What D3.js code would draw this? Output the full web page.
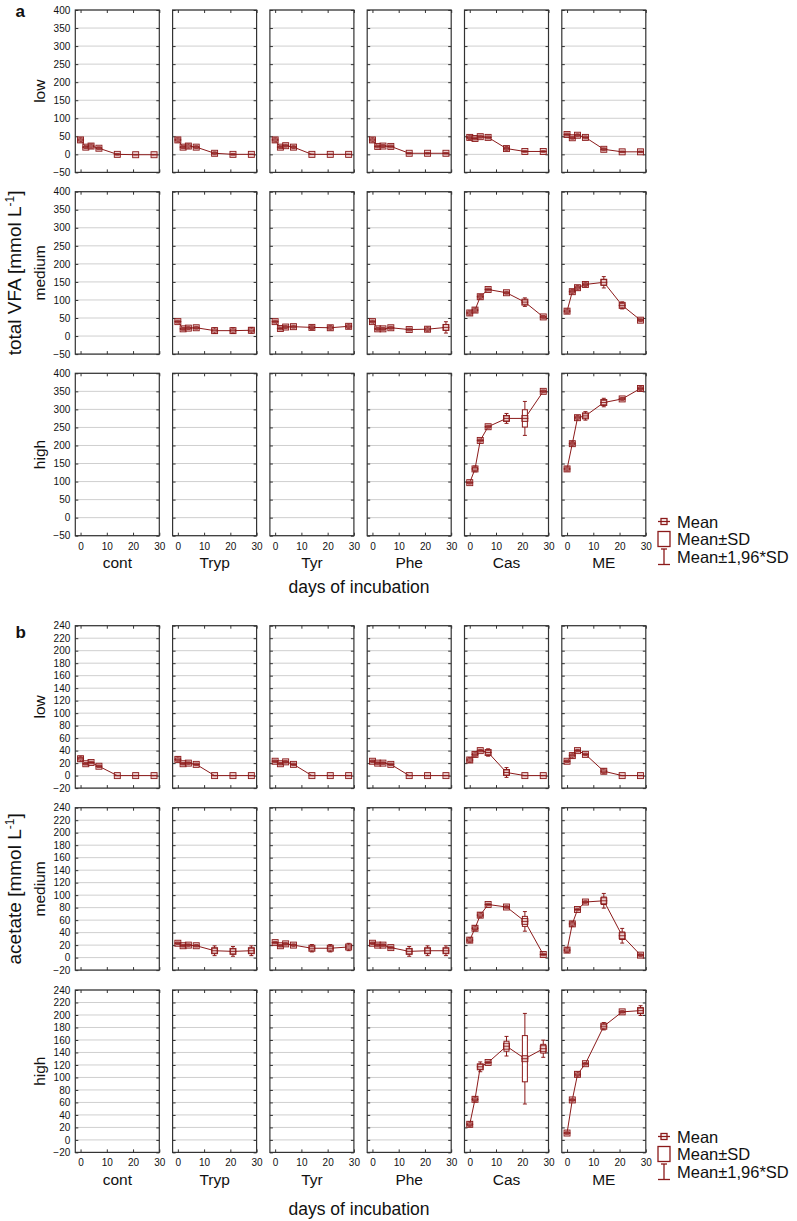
<!DOCTYPE html>
<html>
<head>
<meta charset="utf-8">
<script src="https://cdn.jsdelivr.net/npm/d3@7"></script>
<style>
body { margin: 0; background: #fff; }
svg text { font-family: "Liberation Sans", Arial, sans-serif; fill: #111; }
.grid line { stroke: #cfcfcf; stroke-width: 1; }
.tick line { stroke: #333; }
</style>
</head>
<body>
<svg id="chart" width="797" height="1221"></svg>
<script>
// ---- data ----
const days = [0, 2, 4, 7, 14, 21, 28];
const groups = ["cont", "Tryp", "Tyr", "Phe", "Cas", "ME"];
const levels = ["low", "medium", "high"];
const xTicks = [0, 10, 20, 30];
const vfaTicks = [-50, 0, 50, 100, 150, 200, 250, 300, 350, 400];
const acetateTicks = [-20, 0, 20, 40, 60, 80, 100, 120, 140, 160, 180, 200, 220, 240];

// total VFA, one row per group (cont, Tryp, Tyr, Phe, Cas, ME); null = no data
const vfaLow = [
  [40, 20, 23, 17, 0, -1, -1],
  [40, 20, 23, 20, 3, 0, 0],
  [40, 20, 24, 20, 0, 0, 0],
  [40, 22, 23, 22, 3, 3, 3],
  [47, 44, 49, 47, 16, 8, 8],
  [55, 46, 53, 47, 14, 7, 7]
];
const vfaLowSd = [
  [3, 2, 3, 2, 1, 0, 0],
  [3, 2, 3, 2, 2, 1, 0],
  [3, 2, 2, 2, 0, 0, 0],
  [3, 2, 2, 2, 1, 1, 1],
  [3, 2, 2, 2, 3, 1, 1],
  [2, 2, 2, 2, 2, 1, 1]
];
const vfaMedium = [
  null,
  [40, 20, 22, 23, 15, 15, 16],
  [40, 21, 25, 26, 24, 23, 27],
  [40, 20, 20, 23, 18, 19, 24],
  [64, 72, 109, 129, 120, 94, 53],
  [69, 123, 134, 143, 149, 85, 44]
];
const vfaMediumSd = [
  null,
  [2, 2, 2, 2, 4, 4, 4],
  [2, 2, 2, 2, 3, 3, 3],
  [2, 2, 2, 2, 2, 3, 8],
  [3, 3, 3, 2, 2, 6, 2],
  [3, 3, 3, 3, 8, 5, 2]
];
const vfaHigh = [
  null, null, null, null,
  [97, 135, 214, 252, 275, 275, 350],
  [135, 205, 277, 282, 319, 329, 358]
];
const vfaHighSd = [
  null, null, null, null,
  [2, 4, 2, 2, 7, 24, 2],
  [3, 3, 3, 6, 6, 2, 3]
];

// acetate
const acetateLow = [
  [27, 19, 21, 15, 0, 0, 0],
  [26, 19, 20, 18, 0, 0, 0],
  [23, 19, 22, 18, 0, 0, 0],
  [23, 20, 20, 18, 0, 0, 0],
  [25, 34, 40, 37, 5, 0, 0],
  [23, 32, 40, 34, 7, 0, 0]
];
const acetateLowSd = [
  [2, 1, 1, 1, 0, 0, 0],
  [2, 1, 1, 1, 0, 0, 0],
  [1, 1, 1, 1, 0, 0, 0],
  [1, 1, 1, 1, 0, 0, 0],
  [2, 2, 1, 3, 4, 0, 0],
  [1, 2, 1, 1, 2, 0, 0]
];
const acetateMedium = [
  null,
  [23, 19, 20, 19, 11, 10, 11],
  [24, 19, 22, 20, 15, 15, 17],
  [23, 20, 20, 16, 10, 11, 11],
  [28, 47, 68, 85, 81, 58, 5],
  [12, 54, 77, 89, 91, 35, 4]
];
const acetateMediumSd = [
  null,
  [1, 1, 1, 1, 4, 4, 4],
  [1, 1, 1, 1, 3, 3, 3],
  [1, 1, 1, 1, 4, 4, 4],
  [2, 2, 2, 1, 1, 8, 1],
  [2, 2, 1, 1, 6, 6, 1]
];
const acetateHigh = [
  null, null, null, null,
  [25, 65, 117, 124, 150, 130, 146],
  [11, 64, 105, 122, 182, 205, 207]
];
const acetateHighSd = [
  null, null, null, null,
  [2, 2, 4, 1, 8, 37, 7],
  [1, 1, 2, 1, 3, 1, 4]
];

// ---- layout ----
const red = "#8b1a1a";
const colLeft = 75.3, colStep = 97.3, cellW = 84, cellH = 162.4;
const svg = d3.select("#chart");

function drawPanel(p) {
  let y = d3.scaleLinear().domain([p.ticks[0], p.ticks[p.ticks.length - 1]]).range([cellH, 0]);
  let x = d3.scaleLinear().domain([-2, 30]).range([0, cellW]);
  let rows = [[p.low, p.lowSd], [p.medium, p.mediumSd], [p.high, p.highSd]];

  rows.forEach((row, r) => {
    groups.forEach((grp, c) => {
      let cell = svg.append("g")
        .attr("transform", "translate(" + (colLeft + c * colStep) + "," + p.rowTops[r] + ")");

      cell.append("g").attr("class", "grid")
        .selectAll("line").data(p.ticks).join("line")
        .attr("x1", 0).attr("x2", cellW)
        .attr("y1", d => y(d)).attr("y2", d => y(d));

      cell.append("g")
        .call(d3.axisLeft(y).tickValues(p.ticks).tickSize(-3).tickPadding(5)
          .tickFormat(c == 0 ? d3.format("d") : ""));
      cell.append("g").attr("transform", "translate(" + cellW + ",0)")
        .call(d3.axisRight(y).tickValues(p.ticks).tickSize(-3).tickFormat(""));
      cell.append("g")
        .call(d3.axisTop(x).tickValues(xTicks).tickSize(-3).tickFormat(""));
      cell.append("g").attr("transform", "translate(0," + cellH + ")")
        .call(d3.axisBottom(x).tickValues(xTicks).tickSize(-3).tickPadding(7)
          .tickFormat(r == 2 ? d3.format("d") : ""));
      cell.selectAll(".domain").remove();
      cell.selectAll(".tick text").attr("font-size", 10).attr("font-family", null);

      cell.append("rect")
        .attr("width", cellW).attr("height", cellH)
        .attr("fill", "none").attr("stroke", "#333").attr("stroke-width", 1.2);

      if (r == 2) {
        cell.append("text")
          .attr("x", cellW / 2).attr("y", cellH + 32.6)
          .attr("text-anchor", "middle").attr("font-size", 15.5)
          .text(grp);
      }

      let means = row[0][c];
      if (!means) return;
      let sds = row[1][c];
      let pts = days.map((d, i) => ({day: d, mean: means[i], sd: sds[i]}));

      cell.append("path")
        .datum(pts)
        .attr("fill", "none").attr("stroke", red).attr("stroke-width", 1)
        .attr("d", d3.line().x(d => x(d.day)).y(d => y(d.mean)));

      let mk = cell.selectAll(".pt").data(pts).join("g").attr("class", "pt")
        .attr("transform", d => "translate(" + x(d.day) + ",0)");
      // whiskers, mean +- 1.96 SD
      mk.append("line")
        .attr("y1", d => y(d.mean + 1.96 * d.sd)).attr("y2", d => y(d.mean - 1.96 * d.sd))
        .attr("stroke", red);
      mk.append("line")
        .attr("x1", -2).attr("x2", 2)
        .attr("y1", d => y(d.mean + 1.96 * d.sd)).attr("y2", d => y(d.mean + 1.96 * d.sd))
        .attr("stroke", red);
      mk.append("line")
        .attr("x1", -2).attr("x2", 2)
        .attr("y1", d => y(d.mean - 1.96 * d.sd)).attr("y2", d => y(d.mean - 1.96 * d.sd))
        .attr("stroke", red);
      // box, mean +- SD
      mk.append("rect")
        .attr("x", -2.5).attr("width", 5)
        .attr("y", d => y(d.mean + d.sd))
        .attr("height", d => y(d.mean - d.sd) - y(d.mean + d.sd))
        .attr("fill", "#fff").attr("stroke", red);
      // mean marker
      mk.append("rect")
        .attr("x", -3).attr("width", 6)
        .attr("y", d => y(d.mean) - 3).attr("height", 6)
        .attr("fill", "rgba(200,120,120,0.35)").attr("stroke", red).attr("stroke-width", 0.9);
      mk.append("line")
        .attr("x1", -3.5).attr("x2", 3.5)
        .attr("y1", d => y(d.mean)).attr("y2", d => y(d.mean))
        .attr("stroke", red).attr("stroke-width", 0.9);
    });
  });

  // panel letter
  svg.append("text")
    .attr("x", 15.5).attr("y", p.letterY)
    .attr("font-family", "Liberation Serif, Times New Roman, serif")
    .attr("font-weight", "bold").attr("font-size", 17)
    .text(p.letter);

  // row labels
  levels.forEach((lv, r) => {
    svg.append("text")
      .attr("transform", "translate(45," + (p.rowTops[r] + cellH / 2) + ") rotate(-90)")
      .attr("text-anchor", "middle").attr("font-size", 15.5)
      .text(lv);
  });

  // y title
  let yt = svg.append("text")
    .attr("transform", "translate(21," + (p.rowTops[1] + cellH / 2) + ") rotate(-90)")
    .attr("text-anchor", "middle").attr("font-size", 19);
  yt.append("tspan").text(p.title + " [mmol L");
  yt.append("tspan").attr("dy", -7).attr("font-size", 12).text("-1");
  yt.append("tspan").attr("dy", 7).text("]");

  // x title
  svg.append("text")
    .attr("x", 359).attr("y", p.xTitleY)
    .attr("text-anchor", "middle").attr("font-size", 17.5)
    .text("days of incubation");

  // legend
  let lg = svg.append("g").attr("transform", "translate(658," + p.legendY + ")");
  let e1 = lg.append("g");
  e1.append("line").attr("x1", 0).attr("x2", 12).attr("y1", 0).attr("y2", 0).attr("stroke", red).attr("stroke-width", 1.3);
  e1.append("rect").attr("x", 3).attr("y", -3).attr("width", 6).attr("height", 6)
    .attr("fill", "none").attr("stroke", red).attr("stroke-width", 1.3);
  e1.append("text").attr("x", 19).attr("y", 6).attr("font-size", 16.5).text("Mean");

  let e2 = lg.append("g").attr("transform", "translate(0,17.5)");
  e2.append("rect").attr("x", 0).attr("y", -7.5).attr("width", 12).attr("height", 15)
    .attr("fill", "none").attr("stroke", red).attr("stroke-width", 1.3);
  e2.append("text").attr("x", 19).attr("y", 6).attr("font-size", 16.5).text("Mean±SD");

  let e3 = lg.append("g").attr("transform", "translate(0,35)");
  e3.append("line").attr("x1", 6).attr("x2", 6).attr("y1", -7.5).attr("y2", 8).attr("stroke", red).attr("stroke-width", 1.3);
  e3.append("line").attr("x1", 3).attr("x2", 9).attr("y1", -7.5).attr("y2", -7.5).attr("stroke", red).attr("stroke-width", 1.3);
  e3.append("line").attr("x1", 0).attr("x2", 12).attr("y1", 8).attr("y2", 8).attr("stroke", red).attr("stroke-width", 1.3);
  e3.append("text").attr("x", 19).attr("y", 6).attr("font-size", 16.5).text("Mean±1,96*SD");
}

drawPanel({
  letter: "a", letterY: 17, title: "total VFA", ticks: vfaTicks,
  rowTops: [10, 191.7, 373.3],
  low: vfaLow, lowSd: vfaLowSd,
  medium: vfaMedium, mediumSd: vfaMediumSd,
  high: vfaHigh, highSd: vfaHighSd,
  xTitleY: 593, legendY: 521.5
});

drawPanel({
  letter: "b", letterY: 638, title: "acetate", ticks: acetateTicks,
  rowTops: [625.7, 807.7, 990],
  low: acetateLow, lowSd: acetateLowSd,
  medium: acetateMedium, mediumSd: acetateMediumSd,
  high: acetateHigh, highSd: acetateHighSd,
  xTitleY: 1215, legendY: 1136.5
});
</script>
</body>
</html>
